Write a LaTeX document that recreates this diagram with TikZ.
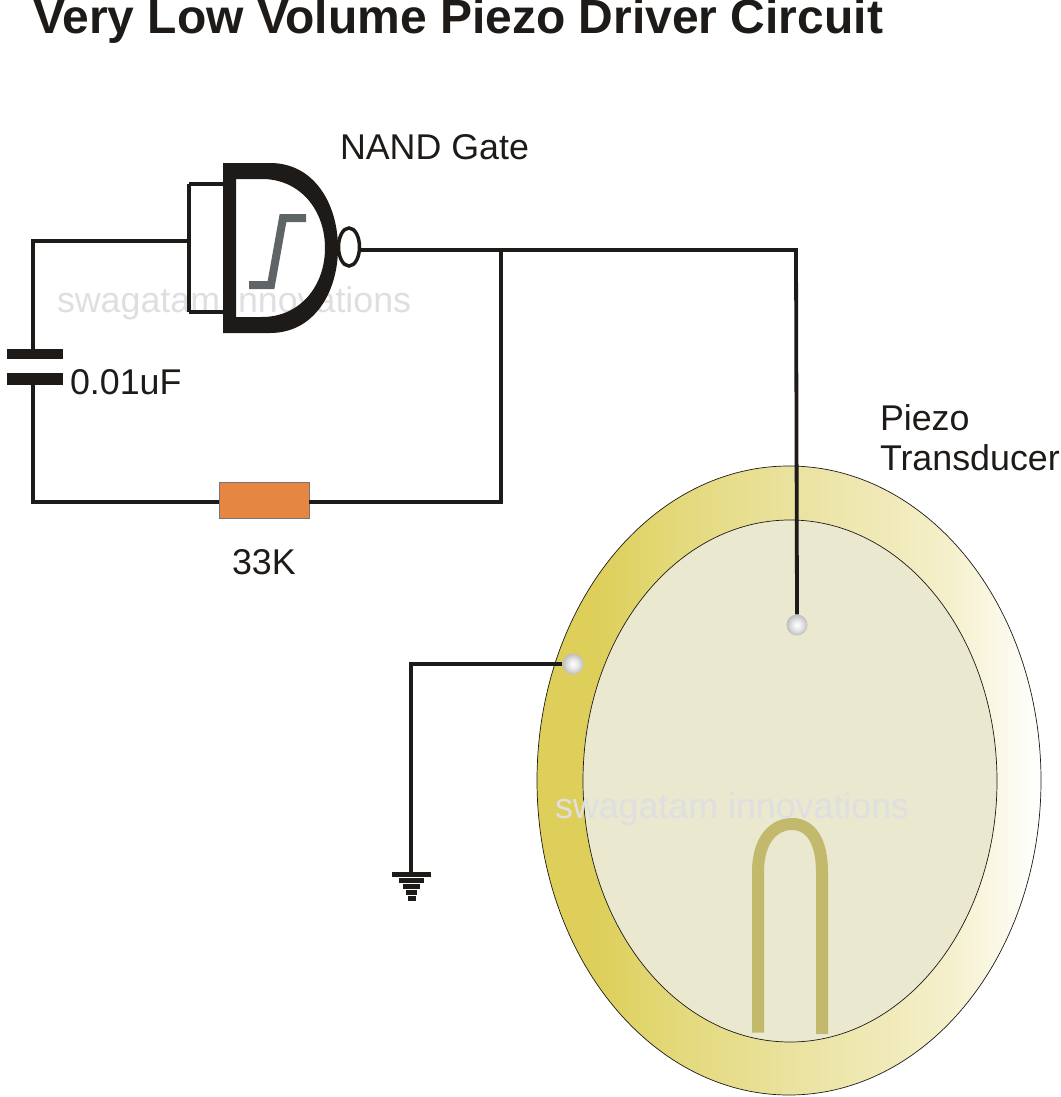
\documentclass[tikz,border=0pt]{standalone}
\usetikzlibrary{shapes.geometric}
\usepackage{fontspec}
\setmainfont{Liberation Sans}
\definecolor{ink}{HTML}{1E1A17}
\definecolor{wmark}{HTML}{DFDFE2}
\definecolor{inner}{HTML}{EAE8CF}
\definecolor{loopc}{HTML}{C2B96C}
\definecolor{stepc}{HTML}{5F6467}
\definecolor{resc}{HTML}{E58643}
\definecolor{ringa}{HTML}{DDCF5A}
\definecolor{ringd}{HTML}{E3D878}
\definecolor{ringb}{HTML}{EAE29E}
\definecolor{ringc}{HTML}{F1EBBD}
\definecolor{ringe}{HTML}{F5F0CC}
\definecolor{dotb}{HTML}{E6E6E6}
\definecolor{dotc}{HTML}{BEBEBE}
\pgfdeclarehorizontalshading{discshade}{100bp}{
  color(0bp)=(ringa); color(25bp)=(ringa); color(31bp)=(ringa); color(38bp)=(ringd);
  color(50bp)=(ringb); color(61bp)=(ringc); color(66bp)=(ringe); color(75bp)=(white); color(100bp)=(white)}
\pgfdeclareradialshading{dotshade}{\pgfpoint{0bp}{0bp}}{
  color(0bp)=(white); color(12bp)=(dotb); color(25bp)=(dotc); color(50bp)=(dotc)}
\tikzset{
  wire/.style={draw=ink,line width=3.8pt,line join=miter},
  lbl/.style={inner sep=0pt,outer sep=0pt,anchor=base west,text=ink,font=\fontsize{35.8}{40}\selectfont},
  titlelbl/.style={lbl,font=\fontsize{48}{50}\selectfont\bfseries},
  wm/.style={inner sep=0pt,outer sep=0pt,anchor=base west,text=wmark,font=\fontsize{35.8}{40}\selectfont},
  bar/.style={fill=ink,draw=none},
  solder/.style={circle,draw=none,minimum size=21pt,inner sep=0pt,shading=dotshade},
}
\begin{document}
\begin{tikzpicture}[x=1pt,y=-1pt]
\useasboundingbox (0,0) rectangle (1060,1097);
% disc
\path[shading=discshade,draw=ink,line width=0.7pt] (789,780.5) ellipse [x radius=252,y radius=314.5];
\path[fill=inner,draw=ink,line width=0.7pt] (790,781) ellipse [x radius=207,y radius=261];
% contact loop
\draw[loopc,line width=12pt] (758,1032.5) -- (758,872) .. controls (758,838) and (775,824) .. (792,824)
  .. controls (810,824) and (822,840) .. (822,872) -- (822,1034);
% watermarks
\node[wm] (wmA) at (57,312) {swagatam innovations};
\node[wm] (wmB) at (555,818) {swagatam innovations};
% coordinates
\coordinate (inJ) at (189,241);
\coordinate (inT) at (189,184);
\coordinate (inB) at (189,312);
\coordinate (gT) at (226,184);
\coordinate (gB) at (226,312);
\coordinate (tl) at (33,241);
\coordinate (bl) at (33,502);
\coordinate (capT) at (33,353);
\coordinate (capB) at (33,379);
\coordinate (jn) at (501,250);
\coordinate (br) at (501,502);
\coordinate (out) at (359,250);
\coordinate (corner) at (796,250);
\coordinate (gndC) at (411,664);
\coordinate (gndE) at (411,874);
% resistor
\node[draw=ink!60,line width=0.8pt,fill=resc,minimum width=90pt,minimum height=36pt,inner sep=0pt] (res) at (264,500) {};
\coordinate (resL) at (res.west |- bl);
\coordinate (resR) at (res.east |- bl);
% solder dots
\node[solder] (dotA) at (797,625) {};
\node[solder] (dotB) at (573,664) {};
% wires
\draw[wire] (inT) -- (gT);
\draw[wire] (inB) -- (gB);
\draw[wire] (inT) -- (inB);
\draw[wire] (inJ) -- (tl) -- (capT);
\draw[wire] (capB) -- (bl) -- (resL);
\draw[wire] (resR) -- (br) -- (jn);
\draw[wire] (out) -- (corner) -- (dotA.north);
\draw[wire] (dotB.west) -- (gndC) -- (gndE);
% capacitor
\path[bar] (7,348.5) rectangle (63,359);
\path[bar] (7,372.5) rectangle (63,385);
% ground
\path[bar] (392,872) rectangle (431,876.5);
\path[bar] (399,878) rectangle (424,882.5);
\path[bar] (403,884) rectangle (420,888.5);
\path[bar] (406,890) rectangle (417,894.5);
\path[bar] (407.5,896) rectangle (416,900.5);
% gate
\path[fill=ink,even odd rule] (223,163) -- (270,163) .. controls (315,163) and (338,205) .. (338,248)
  .. controls (338,291) and (315,333) .. (270,333) -- (223,333) -- cycle
  (236,179) -- (262,179) .. controls (300,179) and (325,210) .. (325,248)
  .. controls (325,286) and (300,317) .. (262,317) -- (236,317) -- cycle;
\draw[stepc,line width=8pt,line join=miter] (249,285) -- (271,285) -- (283,218) -- (306,218);
\node[draw=ink,line width=3.5pt,fill=white,ellipse,minimum width=21pt,minimum height=38pt,inner sep=0pt] (bubble) at (349,247) {};
% labels
\node[titlelbl] (title) at (33,34) {Very Low Volume Piezo Driver Circuit};
\node[lbl] (nand) at (340,160) {NAND Gate};
\node[lbl] (cap) at (70,394) {0.01uF};
\node[lbl] (rval) at (232,574) {33K};
\node[lbl] (pz1) at (880,430) {Piezo};
\node[lbl] (pz2) at (880,470) {Transducer};
\end{tikzpicture}
\end{document}
